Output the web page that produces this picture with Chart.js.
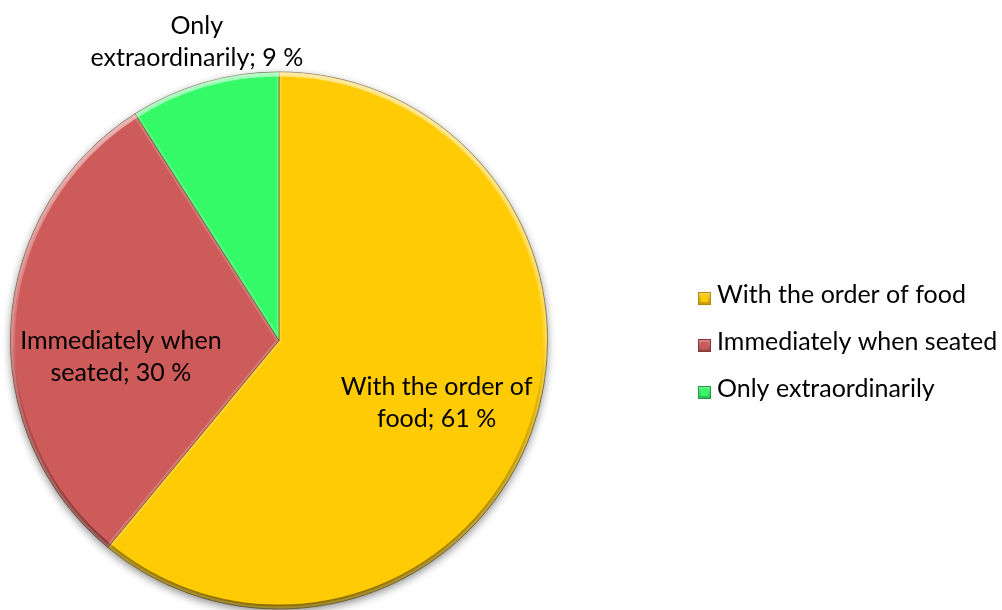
<!DOCTYPE html>
<html>
<head>
<meta charset="utf-8">
<script src="https://cdn.jsdelivr.net/npm/chart.js@4.4.1/dist/chart.umd.min.js"></script>
<style>
  html, body { margin: 0; padding: 0; background: #ffffff; }
  #wrap { width: 1002px; height: 610px; position: relative; }
</style>
</head>
<body>
<div id="wrap"><canvas id="c" width="1002" height="610"></canvas></div>
<script>
// Answer categories and their shares (percent)
const categories = ['With the order of food', 'Immediately when seated', 'Only extraordinarily'];
const shares = [61, 30, 9];
// Data label lines shown on / next to each slice
const labelLines = [
  ['With the order of', 'food; 61 %'],
  ['Immediately when', 'seated; 30 %'],
  ['Only', 'extraordinarily; 9 %']
];
const sliceColors = ['#FFCB05', '#CD5B5A', '#33FA66'];
const edgeColors = ['#B38A00', '#8A3434', '#1E9E40'];

const FONT = 'Lato, "Open Sans", sans-serif';
const FONT_SIZE = 25;

// Bevel-like shading on each slice plus a soft drop shadow under the pie
const bevelPlugin = {
  id: 'bevel',
  beforeDatasetsDraw(chart) {
    const meta = chart.getDatasetMeta(0);
    const ctx = chart.ctx;
    const a = meta.data[0];
    ctx.save();
    ctx.shadowColor = 'rgba(0,0,0,0.45)';
    ctx.shadowBlur = 8;
    ctx.shadowOffsetY = 3;
    ctx.beginPath();
    ctx.arc(a.x, a.y, a.outerRadius, 0, Math.PI * 2);
    ctx.fillStyle = '#888';
    ctx.fill();
    ctx.restore();
  },
  afterDatasetsDraw(chart) {
    const meta = chart.getDatasetMeta(0);
    const ctx = chart.ctx;
    meta.data.forEach((arc) => {
      const { x, y, startAngle, endAngle, outerRadius } = arc.getProps(['x', 'y', 'startAngle', 'endAngle', 'outerRadius']);
      ctx.save();
      ctx.beginPath();
      ctx.moveTo(x, y);
      ctx.arc(x, y, outerRadius, startAngle, endAngle);
      ctx.closePath();
      ctx.clip();
      const g = ctx.createLinearGradient(0, y - outerRadius, 0, y + outerRadius);
      g.addColorStop(0, 'rgba(255,255,255,0.55)');
      g.addColorStop(0.5, 'rgba(255,255,255,0.15)');
      g.addColorStop(0.62, 'rgba(0,0,0,0.12)');
      g.addColorStop(1, 'rgba(0,0,0,0.45)');
      ctx.strokeStyle = g;
      ctx.lineWidth = 9;
      ctx.beginPath();
      ctx.arc(x, y, outerRadius, startAngle, endAngle);
      ctx.stroke();
      ctx.lineWidth = 5;
      ctx.strokeStyle = 'rgba(255,255,255,0.18)';
      ctx.beginPath();
      ctx.moveTo(x, y);
      ctx.arc(x, y, outerRadius, startAngle, endAngle);
      ctx.closePath();
      ctx.stroke();
      ctx.restore();
    });
  }
};

// Data labels: anchored along each slice's mid-angle at a fraction of the radius
const labelPlacement = [
  { f: 0.62, dx: 1, dy: 14 },
  { f: 0.59, dx: 0, dy: 34 },
  { f: 1.15, dx: 4, dy: 6 }
];
const dataLabelPlugin = {
  id: 'sliceLabels',
  afterDraw(chart) {
    const meta = chart.getDatasetMeta(0);
    const ctx = chart.ctx;
    ctx.save();
    ctx.font = FONT_SIZE + 'px ' + FONT;
    ctx.fillStyle = '#000';
    ctx.textAlign = 'center';
    ctx.textBaseline = 'alphabetic';
    meta.data.forEach((arc, i) => {
      const { x, y, startAngle, endAngle, outerRadius } = arc.getProps(['x', 'y', 'startAngle', 'endAngle', 'outerRadius']);
      const mid = (startAngle + endAngle) / 2;
      const p = labelPlacement[i];
      const cx = x + Math.cos(mid) * outerRadius * p.f + p.dx;
      const cy = y + Math.sin(mid) * outerRadius * p.f + p.dy;
      const lines = labelLines[i];
      const lh = 32;
      lines.forEach((t, k) => {
        ctx.fillText(t, cx, cy + (k - (lines.length - 1) / 2) * lh);
      });
    });
    ctx.restore();
  }
};

// Legend on the right with small bevelled swatches
const legendPlugin = {
  id: 'sideLegend',
  afterDraw(chart) {
    const ctx = chart.ctx;
    const items = chart.data.labels;
    const colors = chart.data.datasets[0].backgroundColor;
    const x0 = 698, base0 = 303, gap = 47, box = 13;
    ctx.save();
    ctx.font = FONT_SIZE + 'px ' + FONT;
    ctx.textBaseline = 'alphabetic';
    ctx.textAlign = 'left';
    items.forEach((t, i) => {
      const b = base0 + i * gap;
      const by = b - 11;
      ctx.fillStyle = colors[i];
      ctx.fillRect(x0, by, box, box);
      const g = ctx.createLinearGradient(0, by, 0, by + box);
      g.addColorStop(0, 'rgba(255,255,255,0.35)');
      g.addColorStop(1, 'rgba(0,0,0,0.25)');
      ctx.fillStyle = g;
      ctx.fillRect(x0, by, box, box);
      ctx.fillStyle = colors[i];
      ctx.fillRect(x0 + 3, by + 3, box - 6, box - 6);
      ctx.strokeStyle = edgeColors[i];
      ctx.lineWidth = 1;
      ctx.strokeRect(x0 + 0.5, by + 0.5, box - 1, box - 1);
      ctx.fillStyle = '#000';
      ctx.fillText(t, x0 + 19, b);
    });
    ctx.restore();
  }
};

new Chart(document.getElementById('c'), {
  type: 'pie',
  data: {
    labels: categories,
    datasets: [{
      data: shares,
      backgroundColor: sliceColors,
      borderColor: 'rgba(60,40,0,0.55)',
      borderWidth: 1
    }]
  },
  options: {
    responsive: false,
    animation: false,
    events: [],
    layout: { padding: { top: 71, bottom: 0, left: 10, right: 454 } },
    plugins: {
      legend: { display: false },
      tooltip: { enabled: false }
    }
  },
  plugins: [bevelPlugin, dataLabelPlugin, legendPlugin]
});
</script>
</body>
</html>
